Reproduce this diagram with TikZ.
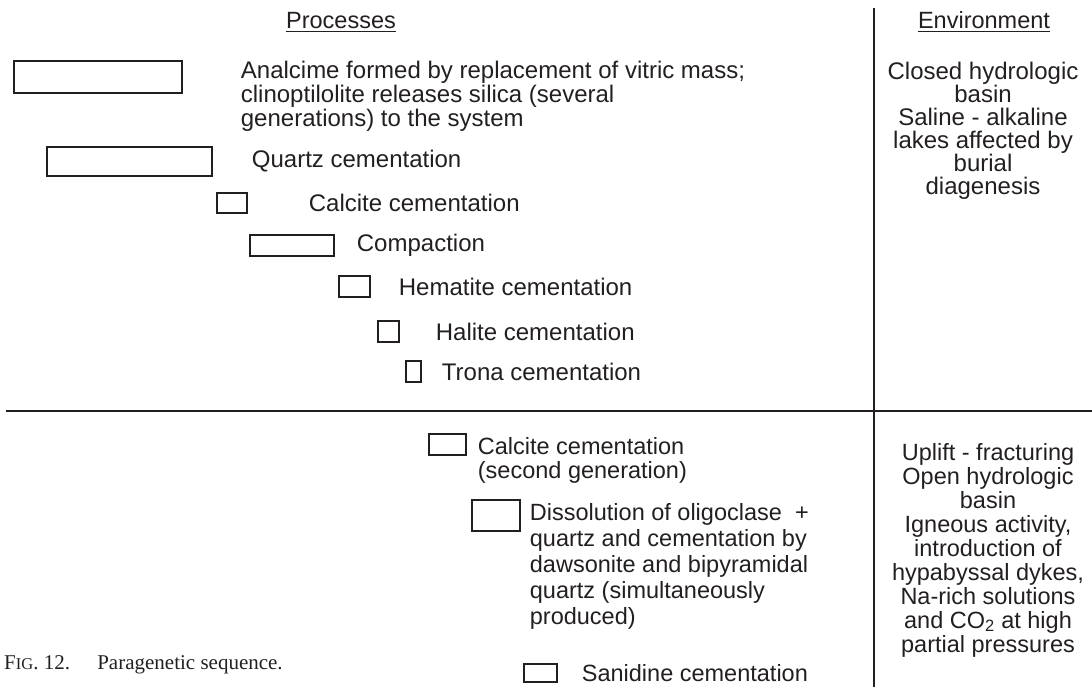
\documentclass[tikz,border=0pt]{standalone}
\usepackage{fontspec}
\setmainfont{Liberation Sans}
\newfontfamily\capfont{Liberation Serif}
\usetikzlibrary{positioning}
\definecolor{ink}{RGB}{35,31,32}
\tikzset{
  bar/.style={draw=ink,line width=1.4pt,inner sep=0pt},
  lbl/.style={font=\fontsize{24}{24}\selectfont,text=ink,inner sep=0pt,align=left},
  low/.style={font=\fontsize{23.5}{24}\selectfont},
  env/.style={font=\fontsize{24}{23}\selectfont,text=ink,inner sep=0pt,align=center},
  rule/.style={draw=ink,line width=1.5pt}
}
\begin{document}
\begin{tikzpicture}[x=1pt,y=-1pt]
  \useasboundingbox (0,0) rectangle (1092,687);
  % frame lines
  \coordinate (vt) at (874,8);
  \coordinate (vb) at (874,687);
  \coordinate (hl) at (6,411);
  \coordinate (hr) at (1092,411);
  \draw[rule] (vt) -- (vb);
  \draw[rule] (hl) -- (hr);
  % headings
  \node[lbl,low,anchor=base] (hp) at (341,29) {Processes};
  \node[lbl,low,anchor=base] (he) at (984,29) {Environment};
  \draw[ink,line width=1pt] ([yshift=-3pt]hp.base west) -- ([yshift=-3pt]hp.base east);
  \draw[ink,line width=1pt] ([yshift=-3pt]he.base west) -- ([yshift=-3pt]he.base east);
  % time bars
  \foreach \nm/\cx/\cy/\w/\h in {b1/98/77/168/32, b2/129.5/161.5/165/29,
      b3/232/203/30/20, b4/292/245.5/84/21, b5/354.5/286.5/31/21,
      b6/388.5/331.5/21/21, b7/413.5/371.5/15/21, b8/447.5/444.5/37/21,
      b9/496/515.5/48/31, b10/540.5/673/33/18}
    \node[bar,minimum width=\w pt,minimum height=\h pt] (\nm) at (\cx,\cy) {};
  % process labels (multi-line ones sit on their last baseline)
  \node[lbl,anchor=base west] (t1) at ([xshift=58pt,yshift=-50pt]b1.east)
    {Analcime formed by replacement of vitric mass;\\clinoptilolite releases silica (several\\generations) to the system};
  \node[lbl,right=39pt of b2] (t2) {Quartz cementation};
  \node[lbl,right=61pt of b3] (t3) {Calcite cementation};
  \node[lbl,right=22pt of b4] (t4) {Compaction};
  \node[lbl,right=28pt of b5] (t5) {Hematite cementation};
  \node[lbl,right=36pt of b6] (t6) {Halite cementation};
  \node[lbl,right=20pt of b7] (t7) {Trona cementation};
  \node[lbl,low,anchor=base west] (t8) at ([xshift=11pt,yshift=-33.5pt]b8.east)
    {Calcite cementation\\(second generation)};
  \node[lbl,anchor=base west,font=\fontsize{23.5}{26}\selectfont] (t9) at ([xshift=9pt,yshift=-108.5pt]b9.east)
    {Dissolution of oligoclase~~+\\quartz and cementation by\\dawsonite and bipyramidal\\quartz (simultaneously\\produced)};
  \node[lbl,low,right=24pt of b10] (t10) {Sanidine cementation};
  % environment
  \node[env,anchor=base] (e1) at (983,195)
    {Closed hydrologic\\basin\\Saline - alkaline\\lakes affected by\\burial\\diagenesis};
  \node[env,anchor=base,font=\fontsize{23.5}{24}\selectfont] (e2) at (988,652)
    {Uplift - fracturing\\Open hydrologic\\basin\\Igneous activity,\\introduction of\\hypabyssal dykes,\\Na-rich solutions\\and CO\textsubscript{2} at high\\partial pressures};
  % caption
  \node[anchor=base west,inner sep=0pt,text=ink,font=\capfont\fontsize{21}{21}\selectfont] (cap) at (4,669)
    {F{\fontsize{16.5}{16.5}\selectfont IG}. 12.\hspace{1.3em}Paragenetic sequence.};
\end{tikzpicture}
\end{document}
